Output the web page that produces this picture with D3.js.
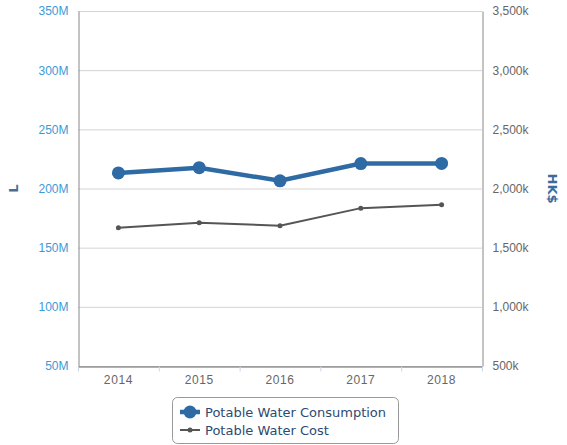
<!DOCTYPE html>
<html>
<head>
<meta charset="utf-8">
<script src="https://cdn.jsdelivr.net/npm/d3@7"></script>
<style>
  body { margin: 0; background: #fff; }
  svg { font-family: "DejaVu Sans", sans-serif; }
</style>
</head>
<body>
<svg id="chart" width="567" height="445"></svg>
<script>
// chart data
var years = ["2014", "2015", "2016", "2017", "2018"];
var consumption = [213.2e6, 217.6e6, 206.5e6, 221.1e6, 221.2e6];   // L
var cost = [1669e3, 1711e3, 1686e3, 1834e3, 1863e3];               // HK$
var leftTicks = [50e6, 100e6, 150e6, 200e6, 250e6, 300e6, 350e6];
var rightTicks = [500e3, 1000e3, 1500e3, 2000e3, 2500e3, 3000e3, 3500e3];
var seriesNames = ["Potable Water Consumption", "Potable Water Cost"];

var svg = d3.select("#chart"),
    margin = { top: 11, left: 78, right: 85, bottom: 79 },
    width = +svg.attr("width"),
    height = +svg.attr("height");

var x = d3.scaleBand().domain(years).range([margin.left, width - margin.right]);
var yL = d3.scaleLinear().domain([50e6, 350e6]).range([height - margin.bottom, margin.top]);
var yR = d3.scaleLinear().domain([500e3, 3500e3]).range([height - margin.bottom, margin.top]);

var fmtL = d => (d / 1e6) + "M";
var fmtR = d => d3.format(",")(d / 1e3) + "k";

// gridlines
svg.append("g")
    .selectAll("line")
    .data(leftTicks)
    .enter().append("line")
    .attr("x1", margin.left).attr("x2", width - margin.right)
    .attr("y1", d => yL(d) + 0.5).attr("y2", d => yL(d) + 0.5)
    .attr("stroke", "#d4d4d4");

// left axis
var gl = svg.append("g")
    .attr("transform", `translate(${margin.left + 0.5},0)`)
    .call(d3.axisLeft(yL).tickValues(leftTicks).tickFormat(fmtL).tickSize(0).tickPadding(10));
gl.select(".domain").attr("stroke", "#888");
gl.selectAll("text").attr("fill", "#3a9ad9").style("font-size", "12px");

// right axis
var gr = svg.append("g")
    .attr("transform", `translate(${width - margin.right + 0.5},0)`)
    .call(d3.axisRight(yR).tickValues(rightTicks).tickFormat(fmtR).tickSize(0).tickPadding(10));
gr.select(".domain").attr("stroke", "#888");
gr.selectAll("text").attr("fill", "#666").style("font-size", "12px");

// bottom axis
var gb = svg.append("g")
    .attr("transform", `translate(0,${height - margin.bottom + 0.5})`)
    .call(d3.axisBottom(x).tickSize(0).tickPadding(9));
gb.select(".domain").attr("stroke", "#666");
gb.selectAll("text").attr("fill", "#666").style("font-size", "12px").attr("letter-spacing", "0.6px");
// tick marks on band edges
gb.append("g")
    .selectAll("line")
    .data(years.concat(["end"]))
    .enter().append("line")
    .attr("x1", (d, i) => (i < years.length ? x(d) : x.range()[1]) + 0.5)
    .attr("x2", (d, i) => (i < years.length ? x(d) : x.range()[1]) + 0.5)
    .attr("y1", 0).attr("y2", 5)
    .attr("stroke", "#ccd6eb");

// axis titles
svg.append("text")
    .attr("transform", `translate(18,${yL(200e6)}) rotate(-90)`)
    .attr("text-anchor", "middle")
    .attr("fill", "#4a6d96")
    .style("font-size", "13px").style("font-weight", "bold")
    .text("L");
svg.append("text")
    .attr("transform", `translate(548,${yL(200e6)}) rotate(90)`)
    .attr("text-anchor", "middle")
    .attr("fill", "#3d6b9c")
    .style("font-size", "13px").style("font-weight", "bold")
    .text("HK$");

var cx = d => x(d) + x.bandwidth() / 2;

// cost series
svg.append("path")
    .datum(cost)
    .attr("fill", "none")
    .attr("stroke", "#555")
    .attr("stroke-width", 2)
    .attr("d", d3.line().x((d, i) => cx(years[i])).y(d => yR(d)));
svg.append("g")
    .selectAll("circle")
    .data(cost)
    .enter().append("circle")
    .attr("cx", (d, i) => cx(years[i]))
    .attr("cy", d => yR(d))
    .attr("r", 2.5)
    .attr("fill", "#555");

// consumption series
svg.append("path")
    .datum(consumption)
    .attr("fill", "none")
    .attr("stroke", "#2e6aa4")
    .attr("stroke-width", 4.5)
    .attr("d", d3.line().x((d, i) => cx(years[i])).y(d => yL(d)));
svg.append("g")
    .selectAll("circle")
    .data(consumption)
    .enter().append("circle")
    .attr("cx", (d, i) => cx(years[i]))
    .attr("cy", d => yL(d))
    .attr("r", 6.5)
    .attr("fill", "#2e6aa4");

// legend
var legend = svg.append("g").attr("transform", "translate(172,397)");
legend.append("rect")
    .attr("x", 0.5).attr("y", 0.5)
    .attr("width", 226).attr("height", 46)
    .attr("rx", 5)
    .attr("fill", "#fff")
    .attr("stroke", "#999");

var items = legend.selectAll("g.item")
    .data(seriesNames)
    .enter().append("g")
    .attr("class", "item")
    .attr("transform", (d, i) => `translate(0,${15 + i * 18})`);

items.append("line")
    .attr("x1", 8).attr("x2", 28)
    .attr("stroke", (d, i) => i === 0 ? "#2e6aa4" : "#555")
    .attr("stroke-width", (d, i) => i === 0 ? 4.5 : 2);
items.append("circle")
    .attr("cx", 18)
    .attr("r", (d, i) => i === 0 ? 6.5 : 2.5)
    .attr("fill", (d, i) => i === 0 ? "#2e6aa4" : "#555");
items.append("text")
    .attr("x", 33)
    .attr("dy", "0.35em")
    .attr("fill", "#2c4a73")
    .style("font-size", "13px")
    .text(d => d);
</script>
</body>
</html>
